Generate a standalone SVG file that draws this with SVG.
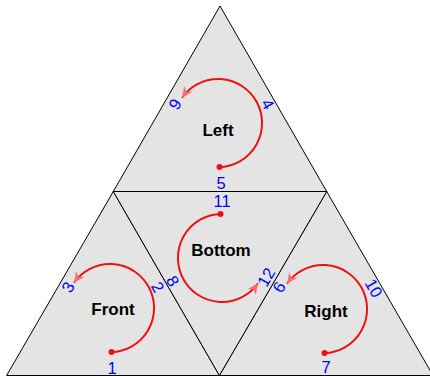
<svg xmlns="http://www.w3.org/2000/svg" width="430" height="376" viewBox="0 0 430 376">
<defs>
<style>
.face{fill:#e4e4e4;stroke:#000;stroke-width:1;stroke-linejoin:round}
.title{font-family:"Liberation Sans",Arial,sans-serif;font-weight:bold;font-size:17px;fill:#000;text-anchor:middle}
.num{font-family:"Liberation Sans",Arial,sans-serif;font-size:16.5px;fill:#0000ff;text-anchor:middle}
.arc{fill:none;stroke:#f01010;stroke-width:2;marker-end:url(#ah)}
.dot{fill:#f01010}
</style>
<marker id="ah" markerUnits="userSpaceOnUse" markerWidth="13" markerHeight="11" refX="11" refY="5" orient="auto" viewBox="0 0 13 10">
<path d="M0,0 L11,5 L0,10 L3.5,5 z" fill="#ff6b6b"/>
</marker>
<path id="curl" d="M1.5,44 A44,44 0 1 0 -36,-25.2"/>
</defs>
<g id="left">
<polygon class="face" points="220,6 113.3,191.5 326.7,191.5"/>
<text class="title" x="218" y="136">Left</text>
<text class="num" transform="translate(175,104) rotate(-60)" dy=".36em">9</text>
<text class="num" transform="translate(268,104) rotate(60)" dy=".36em">4</text>
<text class="num" transform="translate(221,183)" dy=".36em">5</text>
</g>
<g id="front">
<polygon class="face" points="113.3,191.5 6.6,375.5 219.4,375.5"/>
<text class="title" x="113" y="315">Front</text>
<text class="num" transform="translate(68,287) rotate(-60)" dy=".36em">3</text>
<text class="num" transform="translate(158,287) rotate(60)" dy=".36em">2</text>
<text class="num" transform="translate(112,368)" dy=".36em">1</text>
</g>
<g id="right">
<polygon class="face" points="326.7,191.5 219.4,375.5 433,375.5"/>
<text class="title" x="326" y="317">Right</text>
<text class="num" transform="translate(279,287) rotate(-60)" dy=".36em">6</text>
<text class="num" transform="translate(374,288) rotate(60)" dy=".36em">10</text>
<text class="num" transform="translate(326,367)" dy=".36em">7</text>
</g>
<g id="bottom">
<polygon class="face" points="113.3,191.5 326.7,191.5 219.4,375.5"/>
<text class="title" x="221" y="256">Bottom</text>
<text class="num" transform="translate(222,201)" dy=".36em">11</text>
<text class="num" transform="translate(173,281) rotate(60)" dy=".36em">8</text>
<text class="num" transform="translate(266,277) rotate(-60)" dy=".36em">12</text>
</g>
<g id="connectors">
<g transform="translate(218,123)"><use href="#curl" class="arc"/><circle class="dot" cx="1.5" cy="44" r="3"/></g>
<g transform="translate(110,308)"><use href="#curl" class="arc"/><circle class="dot" cx="1.5" cy="44" r="3"/></g>
<g transform="translate(323,309)"><use href="#curl" class="arc"/><circle class="dot" cx="1.5" cy="44" r="3"/></g>
<g transform="translate(222,258) rotate(180)"><use href="#curl" class="arc"/><circle class="dot" cx="1.5" cy="44" r="3"/></g>
</g>
</svg>
